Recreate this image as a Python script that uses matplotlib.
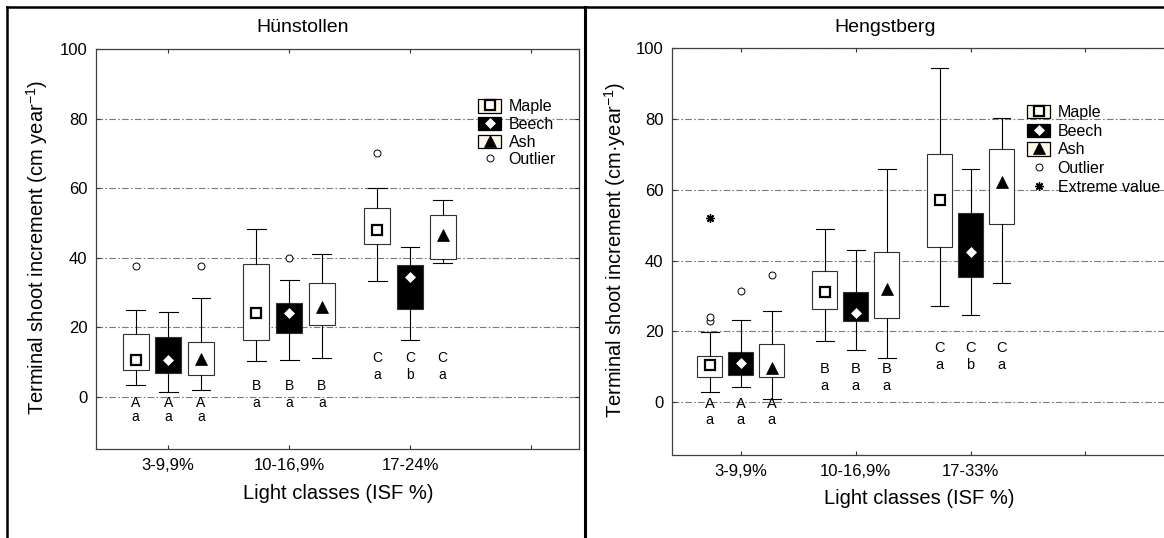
import matplotlib
matplotlib.use('Agg')
import matplotlib.pyplot as plt
from matplotlib.lines import Line2D
from matplotlib.patches import Rectangle
from matplotlib.legend_handler import HandlerTuple

plt.rcParams['font.family'] = ['Liberation Sans', 'DejaVu Sans']
plt.rcParams['mathtext.fontset'] = 'custom'
plt.rcParams['mathtext.rm'] = 'Liberation Sans'
plt.rcParams['mathtext.default'] = 'regular'

SPECIES = ['Maple', 'Beech', 'Ash']
HUN_CLASSES = ['3-9,9%', '10-16,9%', '17-24%']
HEN_CLASSES = ['3-9,9%', '10-16,9%', '17-33%']

# one row per light class: whisker low, 25 %, median, 75 %, whisker high
HUN_MAPLE = [[3.4, 7.6, 10.6, 18.0, 25.0], [10.4, 16.3, 24.0, 38.2, 48.3], [33.3, 43.9, 48.0, 54.3, 60.1]]
HUN_BEECH = [[1.4, 7.0, 10.6, 17.2, 24.5], [10.7, 18.5, 24.2, 26.9, 33.6], [16.3, 25.2, 34.6, 38.0, 43.0]]
HUN_ASH = [[2.0, 6.4, 11.0, 15.8, 28.4], [11.2, 20.7, 26.0, 32.8, 41.2], [38.5, 39.6, 46.6, 52.4, 56.5]]
HUN_MAPLE_OUT = [[37.7], [], [70.1]]
HUN_BEECH_OUT = [[], [39.9], []]
HUN_ASH_OUT = [[37.6], [], []]
HUN_UPPER = ['A', 'B', 'C']
HUN_LOWER = [['a', 'a', 'a'], ['a', 'a', 'a'], ['a', 'b', 'a']]

HEN_MAPLE = [[2.9, 7.1, 10.5, 13.1, 19.8], [17.3, 26.3, 31.2, 37.0, 48.8], [27.2, 43.9, 57.1, 70.2, 94.4]]
HEN_BEECH = [[4.3, 7.6, 11.1, 14.0, 23.2], [14.8, 22.9, 25.3, 31.2, 43.0], [24.7, 35.3, 42.5, 53.4, 66.0]]
HEN_ASH = [[0.8, 7.2, 9.6, 16.5, 25.6], [12.5, 23.8, 31.9, 42.4, 65.8], [33.6, 50.4, 62.2, 71.6, 80.3]]
HEN_MAPLE_OUT = [[23.0, 24.1], [], []]
HEN_BEECH_OUT = [[31.5], [], []]
HEN_ASH_OUT = [[36.0], [], []]
HEN_MAPLE_EXTREME = [[52.0], [], []]
HEN_UPPER = ['A', 'B', 'C']
HEN_LOWER = [['a', 'a', 'a'], ['a', 'a', 'a'], ['a', 'b', 'a']]

OFFSETS = [-0.27, 0.0, 0.27]
BOX_FILL = ['white', 'black', 'white']
MARKERS = [
    dict(marker='s', mfc='white', mec='black', ms=7.5, mew=1.6),
    dict(marker='D', mfc='white', mec='white', ms=5, mew=0.5),
    dict(marker='^', mfc='black', mec='black', ms=9, mew=0.5),
]
FLIER = dict(marker='o', mfc='white', mec='black', ms=5, mew=0.7, ls='none')
EDGE = '#303030'


def draw_species(ax, rows, outliers, k):
    stats = []
    for r, out in zip(rows, outliers):
        lo, q1, med, q3, hi = r
        # marker is drawn through the "mean" slot so it can be styled per species
        stats.append(dict(whislo=lo, q1=q1, med=med, q3=q3, whishi=hi, mean=med, fliers=out))
    pos = [g + 1 + OFFSETS[k] for g in range(len(rows))]
    ax.bxp(stats, positions=pos, widths=0.215, capwidths=0.155, patch_artist=True,
           showmeans=True, manage_ticks=False,
           boxprops=dict(facecolor=BOX_FILL[k], edgecolor=EDGE, linewidth=0.8),
           whiskerprops=dict(color='black', linewidth=0.8),
           capprops=dict(color='black', linewidth=0.8),
           medianprops=dict(linewidth=0),
           meanprops=dict(zorder=4, **MARKERS[k]),
           flierprops=FLIER)
    return pos


def draw_letters(ax, upper, lower, ypos, size):
    for g in range(len(upper)):
        for k in range(3):
            x = g + 1 + OFFSETS[k]
            ax.text(x, ypos[g][0], upper[g], ha='center', va='center', fontsize=size)
            ax.text(x, ypos[g][1], lower[g][k], ha='center', va='center', fontsize=size)


def legend_handles(extreme=False):
    handles = []
    for k in range(3):
        box = Rectangle((0, 0), 1, 1, facecolor='black' if k == 1 else '#fdf8e8',
                        edgecolor='black', linewidth=0.9)
        mark = Line2D([], [], ls='none', **MARKERS[k])
        handles.append((box, mark))
    handles.append(Line2D([], [], **FLIER))
    labels = SPECIES + ['Outlier']
    if extreme:
        handles.append(Line2D([], [], ls='none', marker=(8, 2, 0), color='black', ms=6, mew=1))
        labels.append('Extreme value')
    return handles, labels


def add_legend(ax, extreme, anchor, spacing):
    h, l = legend_handles(extreme)
    ax.legend(h, l, handler_map={tuple: HandlerTuple(ndivide=1, pad=0)}, loc='upper left',
              bbox_to_anchor=anchor, frameon=False, fontsize=11.5, borderpad=0,
              borderaxespad=0, handlelength=1.45, handleheight=0.9, handletextpad=0.45,
              labelspacing=spacing)


def setup_axes(ax, classes, xmax, ylabel):
    ax.set_xlim(0.4, xmax)
    ax.set_ylim(-15, 100)
    ax.set_xticks([1, 2, 3, 4], labels=classes + [''])
    ax.set_yticks([0, 20, 40, 60, 80, 100])
    ax.tick_params(direction='in', length=3, top=True, right=True, labelsize=12, color=EDGE)
    ax.tick_params(axis='x', pad=6.5)
    ax.tick_params(axis='y', pad=6)
    ax.yaxis.grid(True, linestyle=(0, (6, 2, 1.5, 2)), color='#7a7a7a', linewidth=0.8)
    ax.set_axisbelow(True)
    for s in ax.spines.values():
        s.set_color('#404040')
        s.set_linewidth(0.9)
    ax.set_ylabel(ylabel, fontsize=14.5)
    ax.set_xlabel('Light classes (ISF %)', fontsize=14.5)


fig = plt.figure(figsize=(11.64, 5.38), dpi=100)
ax1 = fig.add_axes([0.0822, 0.1654, 0.4155, 0.743])
ax2 = fig.add_axes([0.5771, 0.1543, 0.4364, 0.7556])

# Hünstollen
setup_axes(ax1, HUN_CLASSES, 4.4, 'Terminal shoot increment (cm year$^{-1}$)')
for k, (rows, out) in enumerate([(HUN_MAPLE, HUN_MAPLE_OUT), (HUN_BEECH, HUN_BEECH_OUT),
                                 (HUN_ASH, HUN_ASH_OUT)]):
    draw_species(ax1, rows, out, k)
draw_letters(ax1, HUN_UPPER, HUN_LOWER, [(-1.7, -5.9), (3.1, -1.8), (11.3, 6.3)], 10)
ax1.yaxis.set_label_coords(-0.0945, 0.505)
ax1.xaxis.set_label_coords(0.5006, -0.0876)
add_legend(ax1, False, (0.791, 0.875), 0.16)

# Hengstberg
setup_axes(ax2, HEN_CLASSES, 4.82, 'Terminal shoot increment (cm\u00b7year$^{-1}$)')
for k, (rows, out) in enumerate([(HEN_MAPLE, HEN_MAPLE_OUT), (HEN_BEECH, HEN_BEECH_OUT),
                                 (HEN_ASH, HEN_ASH_OUT)]):
    pos = draw_species(ax2, rows, out, k)
    if k == 0:
        for x, ys in zip(pos, HEN_MAPLE_EXTREME):
            ax2.plot([x] * len(ys), ys, ls='none', marker=(8, 2, 0), color='black', ms=6, mew=1)
draw_letters(ax2, HEN_UPPER, HEN_LOWER, [(-0.7, -5.2), (9.3, 4.6), (15.2, 10.5)], 10.5)
ax2.yaxis.set_label_coords(-0.086, 0.505)
ax2.xaxis.set_label_coords(0.4866, -0.0846)
add_legend(ax2, True, (0.70, 0.861), 0.22)

fig.text(0.2599, 0.949, 'Hünstollen', ha='center', va='center', fontsize=14)
fig.text(0.7608, 0.949, 'Hengstberg', ha='center', va='center', fontsize=14)

# panel frame: top rule, left edge and divider
fig.add_artist(Line2D([0.0058, 1.0], [0.9875, 0.9875], transform=fig.transFigure, color='black', lw=1.8))
fig.add_artist(Line2D([0.0058, 0.0058], [0.0, 0.9875], transform=fig.transFigure, color='black', lw=1.8))
fig.add_artist(Line2D([0.5026, 0.5026], [0.0, 0.9875], transform=fig.transFigure, color='black', lw=2.2))

fig.savefig('out.png', dpi=100)
